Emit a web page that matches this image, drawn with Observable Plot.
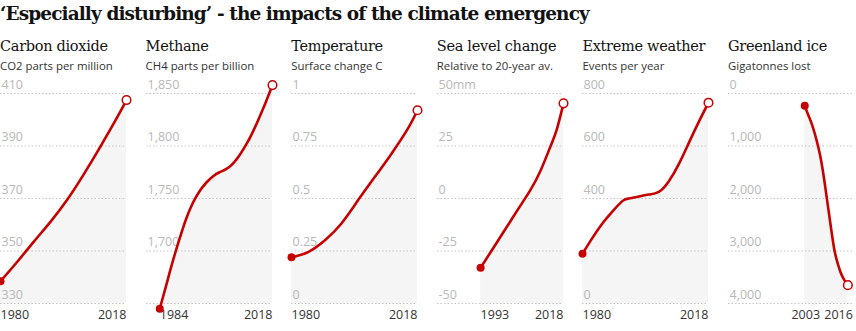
<!DOCTYPE html>
<html><head><meta charset="utf-8">
<script src="https://cdn.jsdelivr.net/npm/d3@7"></script>
<script src="https://cdn.jsdelivr.net/npm/@observablehq/plot@0.6"></script>
<style>
body{margin:0;background:#fff;}
#chart{position:relative;width:856px;height:331px;overflow:hidden;background:#fff}
#title{position:absolute;left:0;top:3px;font-family:"DejaVu Serif";font-weight:bold;font-size:18.5px;color:#121212;white-space:nowrap;letter-spacing:-0.9px}
.panel{position:absolute;top:0;width:146px;height:331px}
.ptitle{position:absolute;left:0;top:38px;font-family:"DejaVu Serif";font-size:14.5px;color:#121212;white-space:nowrap;letter-spacing:-0.3px}
.psub{position:absolute;left:0;top:58px;font-family:"Open Sans";font-size:11.4px;color:#333;white-space:nowrap}
.panel svg{position:absolute;left:0;top:70px;overflow:visible}
</style></head>
<body><div id="chart"><div id="title"></div></div>
<script>
const chartTitle = "‘Especially disturbing’ - the impacts of the climate emergency";
const panelTitles = ["Carbon dioxide","Methane","Temperature","Sea level change","Extreme weather","Greenland ice"];
const panelSubtitles = ["CO2 parts per million","CH4 parts per billion","Surface change C","Relative to 20-year av.","Events per year","Gigatonnes lost"];
const xDomain = [1980, 2018];

const co2Years = [1980,1985,1990,1995,2000,2005,2010,2015,2018];
const co2Values = [338.5,345.8,353.5,361,369.3,379,389.5,400.5,407.5];
const co2Grid = [330,350,370,390,410];
const co2Labels = ["330","350","370","390","410"];

const ch4Years = [1984,1986,1988,1990,1992,1994,1996,1998,2000,2002,2004,2006,2008,2010,2012,2014,2016,2018];
const ch4Values = [1645,1668,1691,1712,1731,1746,1757,1765,1771,1775,1778,1783,1791,1801,1813,1827,1842,1858];
const ch4Grid = [1650,1700,1750,1800,1850];
const ch4Labels = ["","1,700","1,750","1,800","1,850"];

const tempYears = [1980,1985,1990,1995,2000,2005,2010,2015,2018];
const tempValues = [0.22,0.245,0.30,0.38,0.49,0.60,0.71,0.83,0.92];
const tempGrid = [0,0.25,0.5,0.75,1];
const tempLabels = ["0","0.25","0.5","0.75","1"];

const seaYears = [1993,1996,1999,2002,2005,2008,2011,2014,2016,2018];
const seaValues = [-33,-25.6,-18.2,-10.8,-3.4,4,13,24.5,33,45.3];
const seaGrid = [-50,-25,0,25,50];
const seaLabels = ["-50","-25","0","25","50mm"];

const wxYears = [1980,1983,1986,1989,1992,1994,1997,2000,2003,2006,2009,2012,2015,2018];
const wxValues = [190,250,305,350,390,400,408,415,425,465,530,610,690,765];
const wxGrid = [0,200,400,600,800];
const wxLabels = ["0","","400","600","800"];

const iceYears = [2003,2004,2005,2006,2007,2008,2009,2010,2011,2012,2013,2014,2015,2016];
const iceValues = [235,400,560,760,1000,1300,1700,2150,2600,3000,3250,3440,3560,3650];
const iceGrid = [0,1000,2000,3000,4000];
const iceLabels = ["0","1,000","2,000","3,000","4,000"];

const panels = [
  {years: co2Years, values: co2Values, grid: co2Grid, labels: co2Labels, domain: [330,410], reverse: false, a0: "start", a1: "end", d0: 0, d1: 0},
  {years: ch4Years, values: ch4Values, grid: ch4Grid, labels: ch4Labels, domain: [1650,1850], reverse: false, a0: "start", a1: "end", d0: 0, d1: 0},
  {years: tempYears, values: tempValues, grid: tempGrid, labels: tempLabels, domain: [0,1], reverse: false, a0: "start", a1: "end", d0: 0, d1: 0},
  {years: seaYears, values: seaValues, grid: seaGrid, labels: seaLabels, domain: [-50,50], reverse: false, a0: "start", a1: "end", d0: 0, d1: 0},
  {years: wxYears, values: wxValues, grid: wxGrid, labels: wxLabels, domain: [0,800], reverse: false, a0: "start", a1: "end", d0: 0, d1: 0},
  {years: iceYears, values: iceValues, grid: iceGrid, labels: iceLabels, domain: [0,4000], reverse: true, a0: "middle", a1: "end", d0: 1, d1: 5}
];

const red = "#c70000";
const chart = document.getElementById("chart");
document.getElementById("title").textContent = chartTitle;
panels.forEach((p, i) => {
  const div = document.createElement("div");
  div.className = "panel";
  div.style.left = (i * 145.6) + "px";
  const t = document.createElement("div"); t.className = "ptitle"; t.textContent = panelTitles[i];
  const s = document.createElement("div"); s.className = "psub"; s.textContent = panelSubtitles[i];
  div.appendChild(t); div.appendChild(s);
  const data = p.years.map((x, j) => ({x, y: p.values[j]}));
  const base = p.reverse ? p.domain[1] : p.domain[0];
  const first = data[0], last = data[data.length - 1];
  const labelMap = new Map(p.grid.map((v, j) => [v, p.labels[j]]));
  const labelTicks = p.grid.filter((v, j) => p.labels[j] !== "");
  const svg = Plot.plot({
    width: 132, height: 261,
    marginLeft: 0, marginRight: 6, marginTop: 23, marginBottom: 28,
    x: {domain: xDomain, axis: null},
    y: {domain: p.domain, reverse: p.reverse, axis: null},
    style: {fontFamily: "Open Sans", overflow: "visible", background: "transparent"},
    marks: [
      Plot.areaY(data, {x: "x", y1: base, y2: "y", fill: "#f5f5f5", curve: "natural"}),
      Plot.gridY({ticks: p.grid, stroke: "#c4c4c4", strokeOpacity: 1, strokeDasharray: "1.5,2", strokeWidth: 1}),
      Plot.axisY({ticks: labelTicks, anchor: "left", label: null, tickSize: 0, tickPadding: 0, textAnchor: "start", dx: 1, dy: -9, tickFormat: d => labelMap.get(d), fill: "#b8b8b8", fontSize: 12.5}),
      Plot.line(data, {x: "x", y: "y", stroke: red, strokeWidth: 2.6, curve: "natural"}),
      Plot.text([first], {x: "x", frameAnchor: "bottom", text: d => String(d.x), textAnchor: p.a0, dx: p.d0, dy: 15, fill: "#333", fontSize: 12.5}),
      Plot.text([last], {x: "x", frameAnchor: "bottom", text: d => String(d.x), textAnchor: p.a1, dx: p.d1, dy: 15, fill: "#333", fontSize: 12.5}),
      Plot.dot([first], {x: "x", y: "y", r: 4, fill: red}),
      Plot.dot([last], {x: "x", y: "y", r: 4.3, fill: "#fff", stroke: red, strokeWidth: 1.5})
    ]
  });
  div.appendChild(svg);
  chart.appendChild(div);
});
</script></body></html>
